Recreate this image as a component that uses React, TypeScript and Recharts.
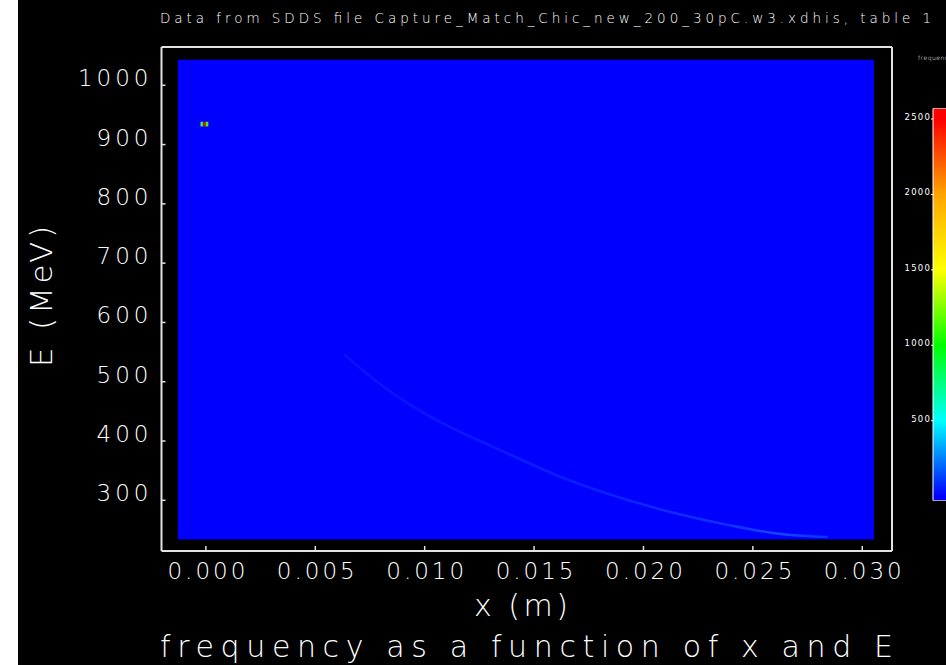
import { ComposedChart, XAxis, YAxis, Line, ReferenceArea, BarChart, Bar } from "recharts";

// axes
const X_TICKS = [0, 0.005, 0.01, 0.015, 0.02, 0.025, 0.03];
const E_TICKS = [300, 400, 500, 600, 700, 800, 900, 1000];
const X_DOMAIN = [-0.00203, 0.03136];
const E_DOMAIN = [214.5, 1064.6];

// histogram grid extent (all bins ~0 -> blue)
const HIST_X = [-0.00128, 0.03054];
const HIST_E = [234, 1043];

// faint low-count ridge
const RIDGE_X = [0.00635, 0.00735, 0.00872, 0.00993, 0.01115, 0.01344, 0.01618, 0.02075, 0.0238, 0.02608, 0.02837];
const RIDGE_E = [545, 514, 476, 448, 424, 385, 340, 285, 259, 244, 238];

// hot spot bins near x=0, E~935
const SPOT_X = [-0.00019, -0.00007, 0.00005];
const SPOT_E = [934.5, 934.5, 934.5];
const SPOT_V = [800, 2550, 1100];
const BIN_DX = 0.00012;
const BIN_DE = 8;

// colour bar
const CBAR_TICKS = [500, 1000, 1500, 2000, 2500];
const CBAR_DOMAIN = [-30, 2571];
const CMAP_V = [0, 500, 1000, 1500, 2000, 2500];
const CMAP_C = ["#0000ff", "#00ffff", "#00ff00", "#ffff00", "#ffa500", "#ff0000"];

const FONT = "'DejaVu Sans', sans-serif";
const AX = "#e2e2e2";
const LEFT_GAP = 9;
const BOTTOM_GAP = 28;

const ridgeData = RIDGE_X.map((x, i) => ({ x, e: RIDGE_E[i] }));
const cbarData = [{ name: "frequency", range: CBAR_DOMAIN }];

function hex(c: string) {
  return [1, 3, 5].map((i) => parseInt(c.slice(i, i + 2), 16));
}
function colorOf(v: number) {
  if (v <= CMAP_V[0]) return CMAP_C[0];
  for (let i = 1; i < CMAP_V.length; i++) {
    if (v <= CMAP_V[i]) {
      const t = (v - CMAP_V[i - 1]) / (CMAP_V[i] - CMAP_V[i - 1]);
      const a = hex(CMAP_C[i - 1]), b = hex(CMAP_C[i]);
      const m = a.map((q, k) => Math.round(q + (b[k] - q) * t));
      return `rgb(${m[0]},${m[1]},${m[2]})`;
    }
  }
  return CMAP_C[CMAP_C.length - 1];
}

// left ticks point inward: draw the mark and the label together
function LeftTick({ x, y, payload }: any) {
  const fx = x + LEFT_GAP;
  return (
    <g>
      <line x1={fx} x2={fx + 4} y1={y} y2={y} stroke={AX} strokeWidth={1.5} />
      <text x={x} y={y + 1} textAnchor="end" fill="#fff" fontFamily={FONT} fontWeight={300}
        fontSize={23} letterSpacing={4}>
        {payload.value}
      </text>
    </g>
  );
}

function BottomTick({ x, y, payload }: any) {
  const fy = y - BOTTOM_GAP;
  return (
    <g>
      <line x1={x} x2={x} y1={fy} y2={fy - 5} stroke={AX} strokeWidth={1.5} />
      <text x={x + 2} y={y} textAnchor="middle" fill="#fff" fontFamily={FONT} fontWeight={300}
        fontSize={23} letterSpacing={3}>
        {payload.value.toFixed(3)}
      </text>
    </g>
  );
}

function CbarTick({ x, y, payload }: any) {
  return (
    <text x={x} y={y + 1} textAnchor="end" fill="#fff" fontFamily={FONT}
      fontSize={8.5} letterSpacing={1.2}>
      {payload.value}
    </text>
  );
}

export default function App() {
  const span = CBAR_DOMAIN[1] - CBAR_DOMAIN[0];
  return (
    <div style={{ position: "absolute", left: 0, top: 0, width: 946, height: 665, background: "#fff" }}>
      <div style={{ position: "absolute", left: 18, top: 0, width: 928, height: 665, background: "#000", overflow: "hidden" }}>
        <ComposedChart width={928} height={665} margin={{ top: 47, right: 54, bottom: 74, left: 83.5 }}>
          <defs>
            <linearGradient id="ridge" x1="0" y1="0" x2="1" y2="0">
              <stop offset="0" stopColor="#0612ff" />
              <stop offset="0.5" stopColor="#0a20ff" />
              <stop offset="0.8" stopColor="#0f32ff" />
              <stop offset="0.9" stopColor="#1648ff" />
              <stop offset="1" stopColor="#0c30ff" />
            </linearGradient>
          </defs>
          <XAxis xAxisId="b" type="number" dataKey="x" domain={X_DOMAIN} ticks={X_TICKS} allowDataOverflow
            height={40} tickSize={0} tickMargin={BOTTOM_GAP} tick={<BottomTick />} tickLine={false}
            axisLine={{ stroke: AX, strokeWidth: 2 }} />
          <XAxis xAxisId="t" orientation="top" mirror type="number" domain={X_DOMAIN} ticks={X_TICKS} allowDataOverflow
            height={10} tickSize={5} tick={false}
            axisLine={{ stroke: AX, strokeWidth: 2 }} tickLine={{ stroke: AX, strokeWidth: 1.5 }} />
          <YAxis yAxisId="l" type="number" domain={E_DOMAIN} ticks={E_TICKS} allowDataOverflow
            width={60} tickSize={0} tickMargin={LEFT_GAP} tick={<LeftTick />} tickLine={false}
            axisLine={{ stroke: AX, strokeWidth: 2 }} />
          <YAxis yAxisId="r" orientation="right" mirror type="number" domain={E_DOMAIN} ticks={E_TICKS} allowDataOverflow
            width={10} tickSize={4} tick={false}
            axisLine={{ stroke: AX, strokeWidth: 2 }} tickLine={{ stroke: AX, strokeWidth: 1.5 }} />

          <ReferenceArea xAxisId="b" yAxisId="l" x1={HIST_X[0]} x2={HIST_X[1]} y1={HIST_E[0]} y2={HIST_E[1]}
            fill="#0000ff" fillOpacity={1} stroke="none" />
          <Line xAxisId="b" yAxisId="l" data={ridgeData} dataKey="e" type="monotone" stroke="url(#ridge)"
            strokeWidth={2.5} strokeLinecap="round" dot={false} isAnimationActive={false} />
          {SPOT_X.map((x, i) => (
            <ReferenceArea key={i} xAxisId="b" yAxisId="l" x1={x - BIN_DX / 2} x2={x + BIN_DX / 2}
              y1={SPOT_E[i] - BIN_DE / 2} y2={SPOT_E[i] + BIN_DE / 2}
              fill={colorOf(SPOT_V[i])} fillOpacity={1} stroke="none" />
          ))}

          <text x={142} y={23} fill="#fff" fontFamily={FONT} fontWeight={300} fontSize={13.5}
            textLength={771} lengthAdjust="spacing">
            Data from SDDS file Capture_Match_Chic_new_200_30pC.w3.xdhis, table 1
          </text>
          <text x={503} y={616} textAnchor="middle" fill="#fff" fontFamily={FONT} fontWeight={300} fontSize={30}
            textLength={94} lengthAdjust="spacing">
            x (m)
          </text>
          <text x={142} y={657} fill="#fff" fontFamily={FONT} fontWeight={300} fontSize={30}
            textLength={733} lengthAdjust="spacing">
            frequency as a function of x and E
          </text>
          <text x={33.7} y={296.5} transform="rotate(-90 33.7 296.5)" textAnchor="middle" fill="#fff"
            fontFamily={FONT} fontWeight={300} fontSize={31} textLength={141} lengthAdjust="spacing">
            E (MeV)
          </text>
        </ComposedChart>

        <div style={{ position: "absolute", left: 882, top: 0 }}>
          <BarChart width={80} height={665} data={cbarData} barCategoryGap={0}
            margin={{ top: 108.3, bottom: 164.3, left: 0, right: 0 }}>
            <defs>
              <linearGradient id="cmap" x1="0" y1="1" x2="0" y2="0">
                {CMAP_V.map((v, i) => (
                  <stop key={i} offset={(v - CBAR_DOMAIN[0]) / span} stopColor={CMAP_C[i]} />
                ))}
              </linearGradient>
            </defs>
            <XAxis dataKey="name" hide />
            <YAxis type="number" domain={CBAR_DOMAIN} ticks={CBAR_TICKS} allowDataOverflow width={33}
              axisLine={false} tickSize={2} tickMargin={0} tick={<CbarTick />} tickLine={{ stroke: "#fff" }} />
            <Bar dataKey="range" fill="url(#cmap)" stroke="#fff" strokeWidth={1} isAnimationActive={false} />
            <text x={18} y={60} fill="#fff" fontFamily={FONT} fontWeight={300} fontSize={6} letterSpacing={0.5}>
              frequency
            </text>
          </BarChart>
        </div>
      </div>
    </div>
  );
}
